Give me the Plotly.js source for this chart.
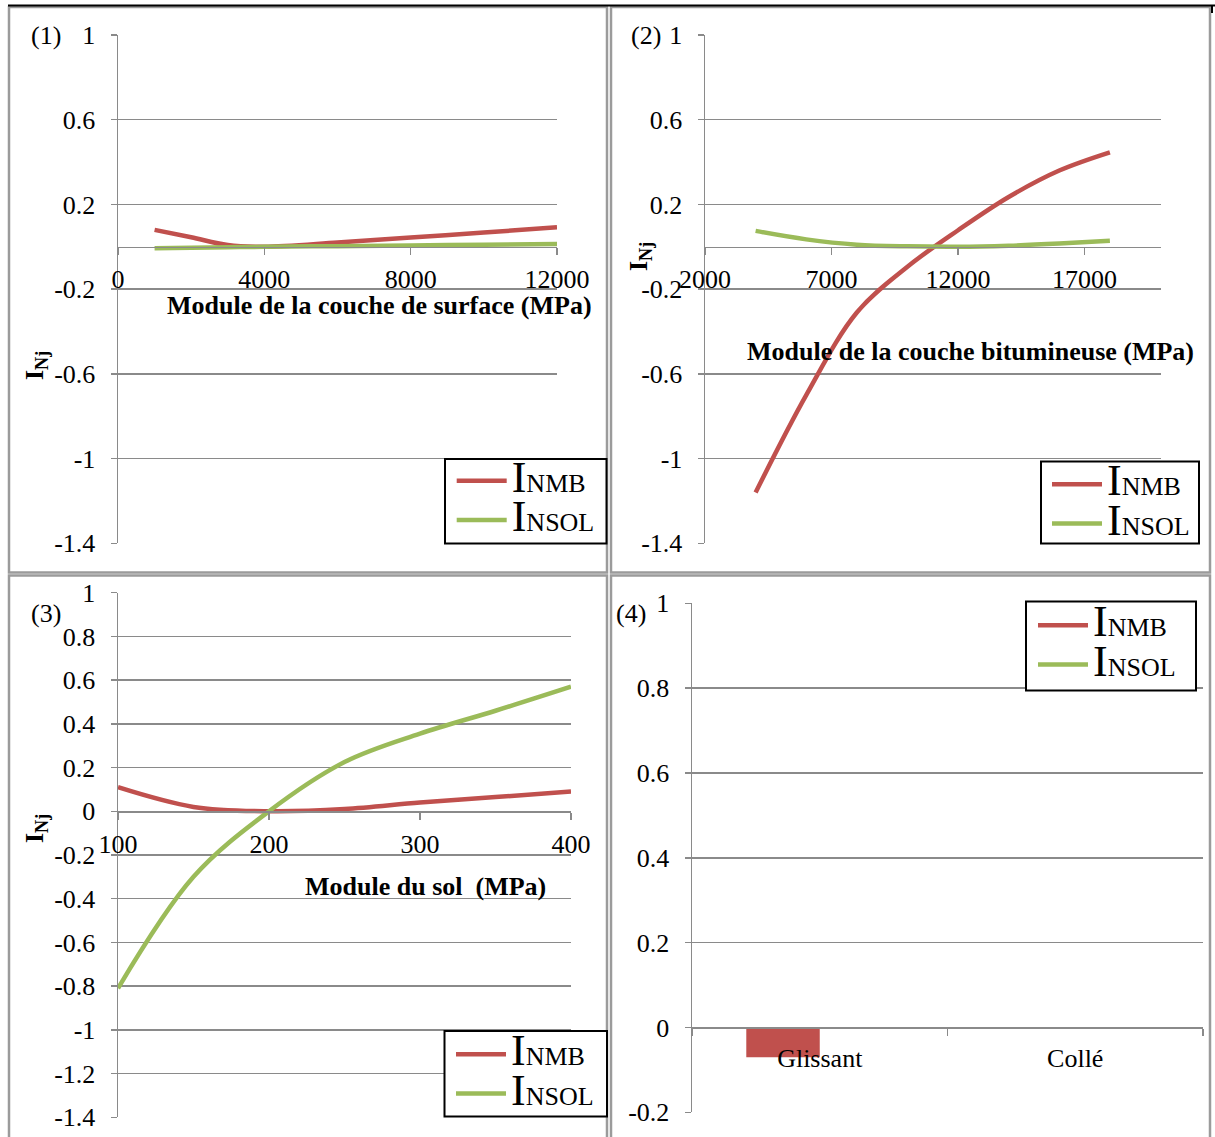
<!DOCTYPE html>
<html><head><meta charset="utf-8">
<script src="https://cdn.plot.ly/plotly-3.0.1.min.js"></script>
<style>html,body{margin:0;padding:0;background:#fff;}#chart{width:1215px;height:1137px;}</style>
</head><body><div id="chart"></div>
<script>
// ---------- data ----------
const seriesNames = ['INMB', 'INSOL'];
const seriesColors = ['#C0504D', '#9BBB59'];

const surfModulus = [1000, 2000, 3000, 4000, 6000, 8000, 10000, 12000];
const surfNMB = [0.08, 0.045, 0.008, 0.0, 0.02, 0.044, 0.067, 0.092];
const surfSOL = [-0.007, -0.005, -0.002, 0.0, 0.003, 0.006, 0.010, 0.013];

const bitModulus = [4000, 6000, 8000, 10000, 12000, 14000, 16000, 18000];
const bitNMB = [-1.16, -0.70, -0.31, -0.094, 0.078, 0.235, 0.36, 0.446];
const bitSOL = [0.075, 0.035, 0.01, 0.002, 0.0, 0.005, 0.015, 0.028];

const solModulus = [100, 150, 200, 250, 300, 350, 400];
const solNMB = [0.11, 0.02, 0.0, 0.01, 0.04, 0.065, 0.09];
const solSOL = [-0.81, -0.30, 0.0, 0.225, 0.355, 0.46, 0.57];

const interfaceCats = ['Glissant', 'Collé'];
const interfaceNMB = [-0.07, 0];
const interfaceSOL = [0, 0];

const xTicks1 = [0, 4000, 8000, 12000];
const xTicks2 = [2000, 7000, 12000, 17000];
const xTicks3 = [100, 200, 300, 400];
const yTicksA = [1, 0.6, 0.2, -0.2, -0.6, -1, -1.4];
const yTextA = ['1', '0.6', '0.2', '-0.2', '-0.6', '-1', '-1.4'];
const yTicksB = [1, 0.8, 0.6, 0.4, 0.2, 0, -0.2, -0.4, -0.6, -0.8, -1, -1.2, -1.4];
const yTextB = ['1', '0.8', '0.6', '0.4', '0.2', '0', '-0.2', '-0.4', '-0.6', '-0.8', '-1', '-1.2', '-1.4'];
const yTicksC = [1, 0.8, 0.6, 0.4, 0.2, 0, -0.2];
const yTextC = ['1', '0.8', '0.6', '0.4', '0.2', '0', '-0.2'];

const xTitles = ['Module de la couche de surface (MPa)', 'Module de la couche bitumineuse (MPa)', 'Module du sol\u00a0\u00a0(MPa)'];
const panelLabels = ['(1)', '(2)', '(3)', '(4)'];
const yTitle = '<b>I<sub>Nj</sub></b>';

// ---------- helpers ----------
const W = 1215, H = 1137;
const px = v => v / W, py = v => 1 - v / H;
const FONT = 'Liberation Serif';
const GRID = '#8a8a8a';
const TICK_SIZE = 26;

function legendLabel(name) {
  return '<span style="font-size:44px">' + name.charAt(0) + '</span><span style="font-size:26px">' + name.slice(1) + '</span>';
}

function lineTrace(x, y, i, xa, ya, leg) {
  return {type: 'scatter', mode: 'lines', x: x, y: y, xaxis: xa, yaxis: ya, legend: leg,
    name: legendLabel(seriesNames[i]), line: {color: seriesColors[i], width: 4.5, shape: 'spline', smoothing: 1},
    hoverinfo: 'skip'};
}

function yAx(top, bottom, range, tv, tt, anchor) {
  return {domain: [py(bottom), py(top)], range: range, tickmode: 'array', tickvals: tv, ticktext: tt,
    showgrid: true, gridcolor: GRID, gridwidth: 1.5, showline: true, linecolor: GRID, linewidth: 1.5,
    ticks: 'outside', ticklen: 6, tickcolor: GRID, tickwidth: 1.5, ticklabelstandoff: 10,
    zeroline: false, anchor: anchor, fixedrange: true,
    tickfont: {family: FONT, size: TICK_SIZE, color: '#000'}};
}
function xAx(left, right, zeroY, range, tv, extra) {
  return Object.assign({domain: [px(left), px(right)], range: range, tickmode: 'array', tickvals: tv,
    tickformat: 'd', anchor: 'free', position: py(zeroY), showgrid: false, showline: true,
    linecolor: GRID, linewidth: 1.5, ticks: 'outside', ticklen: 7, tickcolor: GRID, tickwidth: 1.5,
    ticklabelstandoff: 2, zeroline: false, fixedrange: true,
    tickfont: {family: FONT, size: TICK_SIZE, color: '#000'}}, extra || {});
}
function legendAt(x, y) {
  return {x: px(x), y: py(y), xanchor: 'left', yanchor: 'top', bgcolor: 'rgba(0,0,0,0)', borderwidth: 0,
    font: {family: FONT, size: 28, color: '#000'}, itemwidth: 50, tracegroupgap: 0, traceorder: 'normal'};
}
function rect(x0, y0, x1, y1, color, width, fill) {
  return {type: 'rect', xref: 'paper', yref: 'paper', x0: px(x0), x1: px(x1), y0: py(y0), y1: py(y1),
    line: {color: color, width: width}, fillcolor: fill || 'rgba(0,0,0,0)', layer: 'above'};
}
function ann(text, x, y, size, extra) {
  return Object.assign({text: text, xref: 'paper', yref: 'paper', x: px(x), y: py(y), xanchor: 'center',
    yanchor: 'middle', showarrow: false, font: {family: FONT, size: size, color: '#000'}}, extra || {});
}

// ---------- traces ----------
const traces = [
  lineTrace(surfModulus, surfNMB, 0, 'x', 'y', 'legend'),
  lineTrace(surfModulus, surfSOL, 1, 'x', 'y', 'legend'),
  lineTrace(bitModulus, bitNMB, 0, 'x2', 'y2', 'legend2'),
  lineTrace(bitModulus, bitSOL, 1, 'x2', 'y2', 'legend2'),
  lineTrace(solModulus, solNMB, 0, 'x3', 'y3', 'legend3'),
  lineTrace(solModulus, solSOL, 1, 'x3', 'y3', 'legend3'),
  {type: 'bar', x: interfaceCats, y: interfaceNMB, xaxis: 'x4', yaxis: 'y4', name: seriesNames[0],
    marker: {color: seriesColors[0]}, showlegend: false, hoverinfo: 'skip'},
  {type: 'bar', x: interfaceCats, y: interfaceSOL, xaxis: 'x4', yaxis: 'y4', name: seriesNames[1],
    marker: {color: seriesColors[1]}, showlegend: false, hoverinfo: 'skip'},
  // legend entries for panel 4 (drawn as lines, as in the original)
  {type: 'scatter', mode: 'lines', x: [null], y: [null], xaxis: 'x4', yaxis: 'y4', legend: 'legend4',
    name: legendLabel(seriesNames[0]), line: {color: seriesColors[0], width: 4.5}, showlegend: true, hoverinfo: 'skip'},
  {type: 'scatter', mode: 'lines', x: [null], y: [null], xaxis: 'x4', yaxis: 'y4', legend: 'legend4',
    name: legendLabel(seriesNames[1]), line: {color: seriesColors[1], width: 4.5}, showlegend: true, hoverinfo: 'skip'}
];

// ---------- layout ----------
const layout = {
  width: W, height: H, margin: {l: 0, r: 0, t: 0, b: 0, pad: 0},
  paper_bgcolor: '#fff', plot_bgcolor: 'rgba(0,0,0,0)',
  font: {family: FONT, color: '#000', size: 25},
  barmode: 'group', bargap: 0.425, bargroupgap: 0,
  xaxis: xAx(118, 557, 246.7, [0, 12000], xTicks1),
  yaxis: yAx(35, 543.3, [-1.4, 1], yTicksA, yTextA, 'x'),
  xaxis2: xAx(705, 1160.5, 246.7, [2000, 20000], xTicks2),
  yaxis2: yAx(35, 543.3, [-1.4, 1], yTicksA, yTextA, 'x2'),
  xaxis3: xAx(118, 571, 811.3, [100, 400], xTicks3),
  yaxis3: yAx(592.7, 1117.3, [-1.4, 1], yTicksB, yTextB, 'x3'),
  xaxis4: xAx(692, 1203, 1027.3, [-0.5, 1.5], undefined,
    {type: 'category', tickmode: 'auto', tickformat: '', tickson: 'boundaries', ticklabelstandoff: 7}),
  yaxis4: yAx(603.3, 1112.3, [-0.2, 1], yTicksC, yTextC, 'x4'),
  legend: legendAt(451.7, 456),
  legend2: legendAt(1047, 459.5),
  legend3: legendAt(451, 1029.5),
  legend4: legendAt(1033, 600.5),
  shapes: [
    rect(9, 7, 607, 572.5, '#9b9b9b', 2.5),
    rect(611, 7, 1210, 572.5, '#9b9b9b', 2.5),
    rect(9, 575.5, 607, 1140, '#9b9b9b', 2.5),
    rect(611, 575.5, 1210, 1140, '#9b9b9b', 2.5),
    {type: 'line', xref: 'paper', yref: 'paper', x0: px(8), x1: px(1215), y0: py(5.5), y1: py(5.5),
      line: {color: '#000', width: 2}, layer: 'above'},
    {type: 'line', xref: 'paper', yref: 'paper', x0: px(1212), x1: px(1212), y0: py(5.5), y1: py(13),
      line: {color: '#000', width: 2}, layer: 'above'},
    rect(445, 459, 606.5, 543.5, '#000', 2, '#fff'),
    rect(1041, 461.5, 1199, 543.5, '#000', 2, '#fff'),
    rect(444.5, 1031, 607, 1116.5, '#000', 2, '#fff'),
    rect(1026, 601.5, 1196, 690.5, '#000', 2, '#fff')
  ],
  annotations: [
    ann(panelLabels[0], 45.5, 35.5, 26),
    ann(panelLabels[1], 646, 35.5, 26),
    ann(panelLabels[2], 45.5, 613, 26),
    ann(panelLabels[3], 630.5, 613, 26),
    ann('<b>' + xTitles[0] + '</b>', 379.5, 305, 26),
    ann('<b>' + xTitles[1] + '</b>', 970, 352, 26),
    ann('<b>' + xTitles[2] + '</b>', 425, 886, 26),
    ann(yTitle, 36, 366, 26, {textangle: -90}),
    ann(yTitle, 640, 257, 26, {textangle: -90}),
    ann(yTitle, 36, 829, 26, {textangle: -90})
  ]
};

Plotly.newPlot('chart', traces, layout, {staticPlot: true, displayModeBar: false});
</script>
</body></html>
